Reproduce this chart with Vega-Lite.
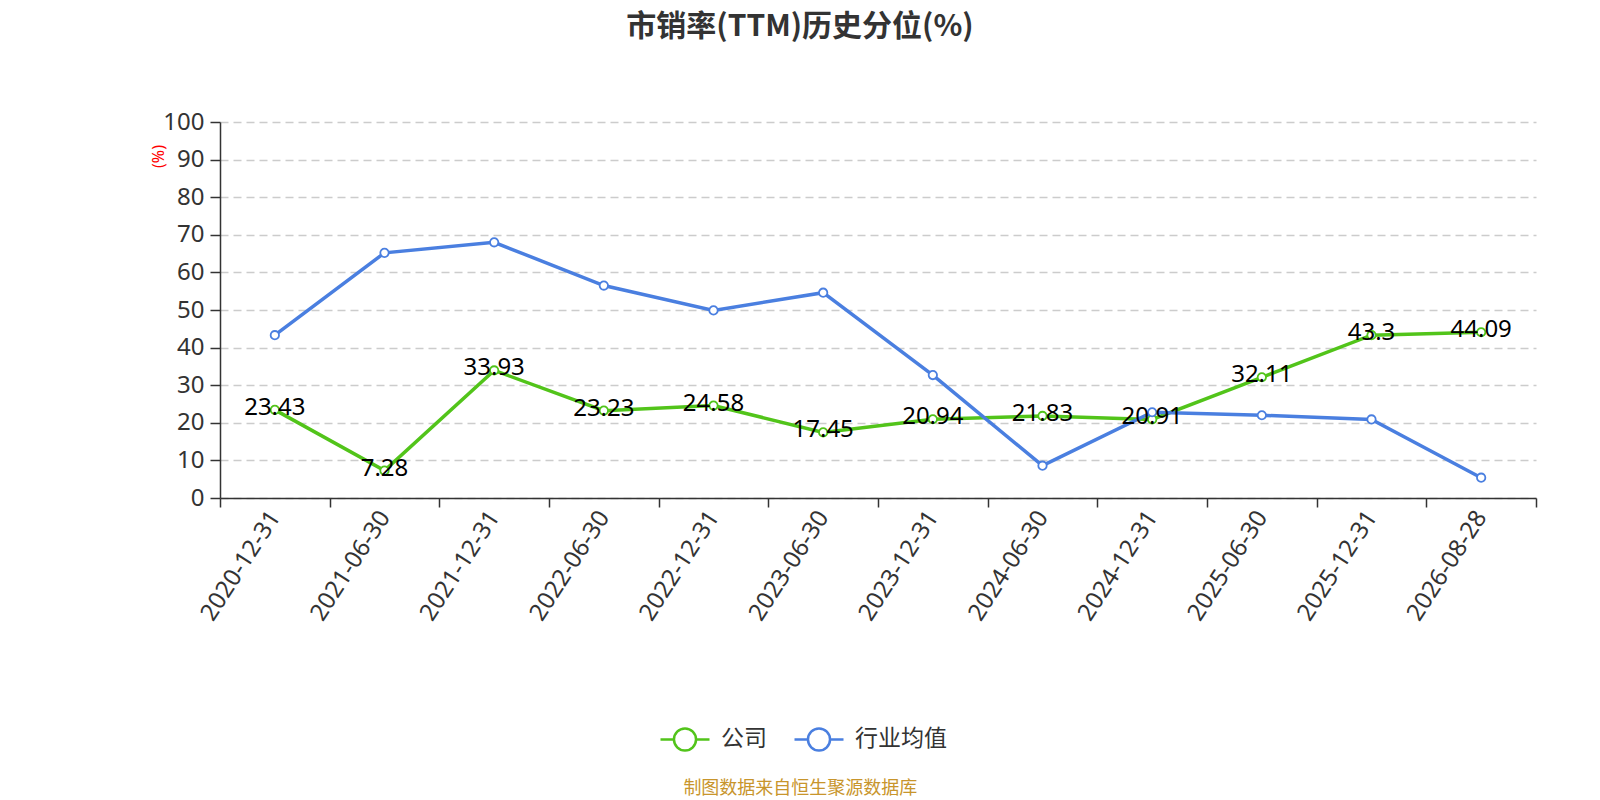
{
  "$schema": "https://vega.github.io/schema/vega-lite/v6.json",
  "background": "white",
  "padding": {"left": 150, "top": 12, "right": 10, "bottom": 0},
  "config": {"view": {"stroke": null}},
  "title": {
    "text": "制图数据来自恒生聚源数据库",
    "orient": "bottom",
    "anchor": "middle",
    "frame": "bounds",
    "dx": -43,
    "offset": 24,
    "font": "Noto Sans CJK SC",
    "fontSize": 18,
    "fontWeight": "normal",
    "color": "#c8952c"
  },
  "vconcat": [
    {
      "title": {
        "text": "市销率(TTM)历史分位(%)",
        "anchor": "middle",
        "frame": "group",
        "dx": -78,
        "offset": 68,
        "font": "Noto Sans CJK SC",
        "fontSize": 30,
        "fontWeight": "bold",
        "color": "#333333"
      },
      "width": 1316,
      "height": 376,
      "data": {
        "values": [
          {"date": "2020-12-31", "series": "公司", "value": 23.43},
          {"date": "2021-06-30", "series": "公司", "value": 7.28},
          {"date": "2021-12-31", "series": "公司", "value": 33.93},
          {"date": "2022-06-30", "series": "公司", "value": 23.23},
          {"date": "2022-12-31", "series": "公司", "value": 24.58},
          {"date": "2023-06-30", "series": "公司", "value": 17.45},
          {"date": "2023-12-31", "series": "公司", "value": 20.94},
          {"date": "2024-06-30", "series": "公司", "value": 21.83},
          {"date": "2024-12-31", "series": "公司", "value": 20.91},
          {"date": "2025-06-30", "series": "公司", "value": 32.11},
          {"date": "2025-12-31", "series": "公司", "value": 43.3},
          {"date": "2026-08-28", "series": "公司", "value": 44.09},
          {"date": "2020-12-31", "series": "行业均值", "value": 43.3},
          {"date": "2021-06-30", "series": "行业均值", "value": 65.2},
          {"date": "2021-12-31", "series": "行业均值", "value": 68.0},
          {"date": "2022-06-30", "series": "行业均值", "value": 56.5},
          {"date": "2022-12-31", "series": "行业均值", "value": 49.9},
          {"date": "2023-06-30", "series": "行业均值", "value": 54.6},
          {"date": "2023-12-31", "series": "行业均值", "value": 32.7},
          {"date": "2024-06-30", "series": "行业均值", "value": 8.6},
          {"date": "2024-12-31", "series": "行业均值", "value": 22.8},
          {"date": "2025-06-30", "series": "行业均值", "value": 22.0},
          {"date": "2025-12-31", "series": "行业均值", "value": 20.9},
          {"date": "2026-08-28", "series": "行业均值", "value": 5.4}
        ]
      },
      "encoding": {
        "x": {
          "field": "date",
          "type": "nominal",
          "sort": null,
          "scale": {"type": "band", "paddingInner": 0, "paddingOuter": 0},
          "axis": {
            "title": null,
            "tickBand": "extent",
            "tickSize": 9,
            "tickColor": "#333333",
            "tickWidth": 1.5,
            "domainColor": "#333333",
            "domainWidth": 1.5,
            "labelAngle": -57,
            "labelAlign": "right",
            "labelBaseline": "middle",
            "labelPadding": 6,
            "labelFont": "Noto Sans",
            "labelFontSize": 24,
            "labelColor": "#333333",
            "grid": false
          }
        },
        "y": {
          "field": "value",
          "type": "quantitative",
          "scale": {"domain": [0, 100]},
          "axis": {
            "values": [0, 10, 20, 30, 40, 50, 60, 70, 80, 90, 100],
            "title": "(%)",
            "titleColor": "red",
            "titleFont": "Noto Sans",
            "titleFontSize": 16,
            "titleFontWeight": "normal",
            "titleAngle": -90,
            "titleAlign": "center",
            "titleBaseline": "middle",
            "titleX": -62,
            "titleY": 34,
            "labelFont": "Noto Sans",
            "labelFontSize": 24,
            "labelColor": "#333333",
            "labelPadding": 6,
            "tickSize": 10,
            "tickColor": "#333333",
            "tickWidth": 1.5,
            "domainColor": "#333333",
            "domainWidth": 1.5,
            "gridColor": "#cccccc",
            "gridDash": [8, 5],
            "gridWidth": 1.5
          }
        }
      },
      "layer": [
        {
          "mark": {"type": "line", "strokeWidth": 3.5},
          "encoding": {
            "color": {
              "field": "series",
              "type": "nominal",
              "scale": {"domain": ["公司", "行业均值"], "range": ["#52c41a", "#4a7fe0"]},
              "legend": {
                "orient": "none",
                "legendX": 439,
                "legendY": 591,
                "direction": "horizontal",
                "title": null,
                "symbolType": "M-1,0L-0.45,0M0.45,0L1,0M-0.45,0A0.45,0.45 0 1,1 0.45,0A0.45,0.45 0 1,1 -0.45,0Z",
                "symbolSize": 2401,
                "symbolStrokeWidth": 2.5,
                "symbolFillColor": "white",
                "labelFont": "Noto Sans CJK SC",
                "labelFontSize": 23,
                "labelColor": "#333333",
                "labelOffset": 10,
                "columnPadding": 22
              }
            }
          }
        },
        {
          "mark": {"type": "point", "shape": "circle", "filled": true, "fill": "white", "size": 70, "strokeWidth": 1.8, "opacity": 1},
          "encoding": {
            "stroke": {
              "field": "series",
              "type": "nominal",
              "scale": {"domain": ["公司", "行业均值"], "range": ["#52c41a", "#4a7fe0"]},
              "legend": null
            }
          }
        },
        {
          "transform": [{"filter": "datum.series === '公司'"}],
          "mark": {"type": "text", "font": "Noto Sans", "fontSize": 24, "color": "black", "baseline": "middle", "dy": -2},
          "encoding": {
            "text": {"field": "value", "type": "nominal"}
          }
        }
      ]
    }
  ]
}
